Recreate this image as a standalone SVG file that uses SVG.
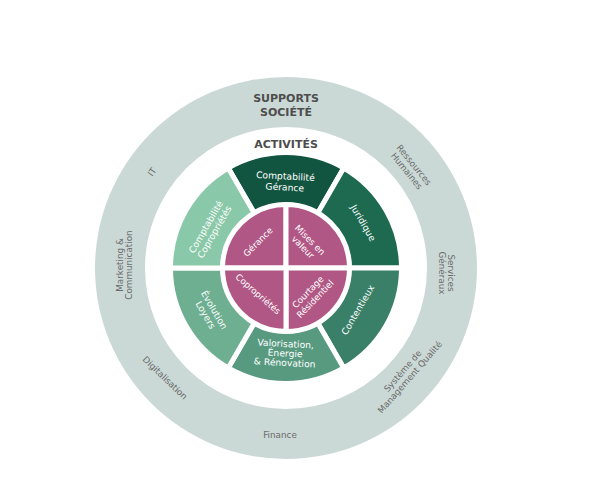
<svg xmlns="http://www.w3.org/2000/svg" width="595" height="503" viewBox="0 0 595 503">
<style>
text{font-family:"DejaVu Sans","Liberation Sans",sans-serif;text-anchor:middle}
.title{font-weight:bold;font-size:11px;fill:#4d4d4d}
.ring{font-size:8.8px;fill:#6a6a6a}
.seg{font-size:9.2px;fill:#ffffff}
.pk{font-size:8.8px;fill:#ffffff}
.s{stroke:#ffffff;stroke-width:5;stroke-linejoin:round}
</style>
<rect width="595" height="503" fill="#ffffff"/>
<g id="supports">
<circle cx="286" cy="268" r="191" fill="#cbd9d6"/>
<circle cx="286" cy="268" r="141" fill="#ffffff"/>
<text class="title" x="286" y="102">SUPPORTS</text>
<text class="title" x="286" y="116">SOCIÉTÉ</text>
</g>
<g id="activites-title"><text class="title" x="286" y="148">ACTIVITÉS</text></g>
<g id="it"><text class="ring" transform="translate(152,172) rotate(-55)" y="3">IT</text></g>
<g id="marketing"><g transform="translate(123,265) rotate(-90)"><text class="ring" y="0">Marketing &amp;</text><text class="ring" y="9">Communication</text></g></g>
<g id="digitalisation"><text class="ring" transform="translate(165,378) rotate(44)" y="3">Digitalisation</text></g>
<g id="finance"><text class="ring" x="280" y="438">Finance</text></g>
<g id="qualite"><g transform="translate(405,373) rotate(-49)"><text class="ring" y="0">Système de</text><text class="ring" y="9.5">Management Qualité</text></g></g>
<g id="services"><g transform="translate(448,273) rotate(90)"><text class="ring" y="0">Services</text><text class="ring" y="9.5">Généraux</text></g></g>
<g id="rh"><g transform="translate(414,165) rotate(51)"><text class="ring" y="3">Ressources</text><text class="ring" y="12.5">Humaines</text></g></g>
<g id="compta-gerance">
<path class="s" fill="#115540" d="M228.25,167.97 A115.5,115.5 0 0 1 343.75,167.97 L317.5,213.44 A63,63 0 0 0 254.5,213.44 Z"/>
<g transform="translate(285,184) rotate(3)"><text class="seg" y="-4.5">Comptabilité</text><text class="seg" y="6.5">Gérance</text></g>
</g>
<g id="juridique">
<path class="s" fill="#1e6a50" d="M343.75,167.97 A115.5,115.5 0 0 1 401.5,268 L349,268 A63,63 0 0 0 317.5,213.44 Z"/>
<text class="seg" transform="translate(363,223) rotate(60)" y="3">Juridique</text>
</g>
<g id="contentieux">
<path class="s" fill="#3a7f67" d="M401.5,268 A115.5,115.5 0 0 1 343.75,368.03 L317.5,322.56 A63,63 0 0 0 349,268 Z"/>
<text class="seg" transform="translate(358,310) rotate(-60)" y="3">Contentieux</text>
</g>
<g id="valorisation">
<path class="s" fill="#579a7f" d="M343.75,368.03 A115.5,115.5 0 0 1 228.25,368.03 L254.5,322.56 A63,63 0 0 0 317.5,322.56 Z"/>
<g transform="translate(285,356) rotate(3)"><text class="seg" y="-9">Valorisation,</text><text class="seg" y="0.5">Énergie</text><text class="seg" y="10">&amp; Rénovation</text></g>
</g>
<g id="evolution">
<path class="s" fill="#6eaf92" d="M228.25,368.03 A115.5,115.5 0 0 1 170.5,268 L223,268 A63,63 0 0 0 254.5,322.56 Z"/>
<g transform="translate(214,310) rotate(60)"><text class="seg" y="3">Évolution</text><text class="seg" y="13">Loyers</text></g>
</g>
<g id="compta-copro">
<path class="s" fill="#89c8a8" d="M170.5,268 A115.5,115.5 0 0 1 228.25,167.97 L254.5,213.44 A63,63 0 0 0 223,268 Z"/>
<g transform="translate(206,227) rotate(-60)"><text class="seg" y="3">Comptabilité</text><text class="seg" y="13">Copropriétés</text></g>
</g>
<g id="gerance">
<path class="s" fill="#b05785" d="M286,268 L222.5,268 A63.5,63.5 0 0 1 286,204.5 Z"/>
<text class="pk" transform="translate(258,242) rotate(-45)" y="3">Gérance</text>
</g>
<g id="mises-en-valeur">
<path class="s" fill="#b05785" d="M286,268 L286,204.5 A63.5,63.5 0 0 1 349.5,268 Z"/>
<g transform="translate(310,240) rotate(45)"><text class="pk" y="3">Mises en</text><text class="pk" y="13">valeur</text></g>
</g>
<g id="courtage">
<path class="s" fill="#b05785" d="M286,268 L349.5,268 A63.5,63.5 0 0 1 286,331.5 Z"/>
<g transform="translate(308,292) rotate(-46)"><text class="pk" y="3">Courtage</text><text class="pk" y="13">Résidentiel</text></g>
</g>
<g id="coproprietes">
<path class="s" fill="#b05785" d="M286,268 L286,331.5 A63.5,63.5 0 0 1 222.5,268 Z"/>
<text class="pk" transform="translate(258,294) rotate(41)" y="3">Copropriétés</text>
</g>
<g id="connectors"></g>
</svg>
